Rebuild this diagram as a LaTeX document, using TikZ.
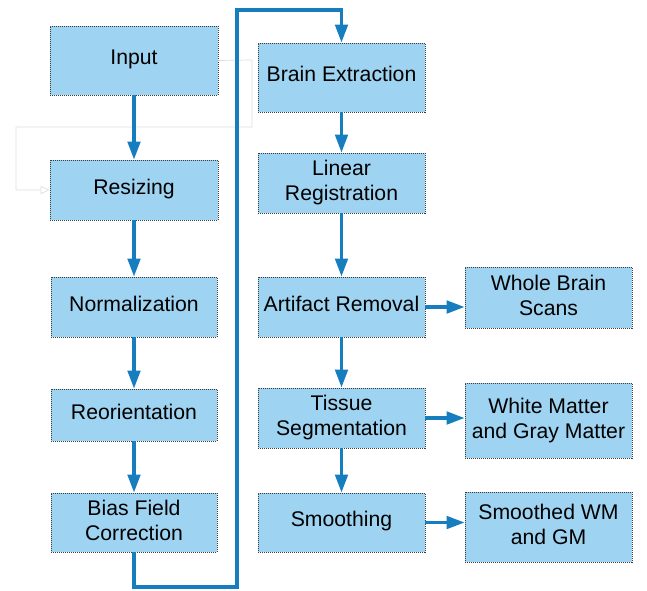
\documentclass[tikz,border=0pt]{standalone}
\usepackage{fontspec}
\setmainfont{Liberation Sans}
\usetikzlibrary{arrows.meta}
\definecolor{boxfill}{RGB}{158,211,241}
\definecolor{flowblue}{RGB}{22,126,191}
\definecolor{ghostgray}{RGB}{222,222,222}
\definecolor{edgegray}{RGB}{60,60,60}
\begin{document}
\begin{tikzpicture}[x=1pt,y=-1pt,
  stepbox/.style={draw=edgegray, line width=0.8pt, dash pattern=on 1pt off 1pt,
    fill=boxfill, inner sep=0pt, align=center,
    font=\fontsize{21.2}{25}\selectfont},
  oneline/.style={stepbox, text height=16pt, text depth=7.5pt},
  twoline/.style={stepbox, text depth=4.5pt},
  flow/.style={draw=flowblue, line width=3.3pt,
    -{Triangle[length=18pt,width=12.5pt]}},
  ghost/.style={draw=ghostgray, line width=0.7pt,
    -{Triangle[open,length=9pt,width=8pt]}}]
  \useasboundingbox (0,0) rectangle (647,590);

  % left column
  \node[oneline, minimum width=168pt, minimum height=69pt] (input) at (134,60.5) {Input};
  \node[oneline, minimum width=168pt, minimum height=60pt] (resize) at (134,190) {Resizing};
  \node[oneline, minimum width=166pt, minimum height=60pt] (norm) at (134,307) {Normalization};
  \node[oneline, minimum width=166pt, minimum height=52pt] (reor) at (134,415) {Reorientation};
  \node[twoline, minimum width=166pt, minimum height=59pt] (bias) at (134,522.5) {Bias Field\\Correction};

  % middle column
  \node[oneline, minimum width=167pt, minimum height=69pt] (brain) at (341.5,77.5) {Brain Extraction};
  \node[twoline, minimum width=167pt, minimum height=60pt] (linreg) at (341.5,183) {Linear\\Registration};
  \node[oneline, minimum width=167pt, minimum height=60pt] (artif) at (341.5,307) {Artifact Removal};
  \node[twoline, minimum width=167pt, minimum height=60pt] (tissue) at (341.5,418) {Tissue\\Segmentation};
  \node[oneline, minimum width=167pt, minimum height=59pt] (smooth) at (341.5,522.5) {Smoothing};

  % outputs
  \node[twoline, minimum width=167pt, minimum height=61pt] (whole) at (548.5,297.5) {Whole Brain\\Scans};
  \node[twoline, minimum width=167pt, minimum height=75pt] (wmgm) at (548.5,420.5) {White Matter\\and Gray Matter};
  \node[twoline, minimum width=167pt, minimum height=70pt] (swm) at (548.5,527) {Smoothed WM\\and GM};

  % faint secondary connector
  \coordinate (g1) at (252,60);
  \coordinate (g2) at (252,127);
  \coordinate (g3) at (16,127);
  \coordinate (g4) at (16,190);
  \draw[ghost] (input.east) -- (g1) -- (g2) -- (g3) -- (g4) -- (resize.west);

  % main flow, left column
  \draw[flow] (input) -- (resize);
  \draw[flow] (resize) -- (norm);
  \draw[flow] (norm) -- (reor);
  \draw[flow] (reor) -- (bias);

  % loop over to the middle column
  \coordinate (l1) at (134,587);
  \coordinate (l2) at (237,587);
  \coordinate (l3) at (237,10);
  \coordinate (l4) at (341.5,10);
  \draw[flow, line join=miter] (bias.south) -- (l1) -- (l2) -- (l3) -- (l4) -- (brain.north);

  % middle column
  \draw[flow] (brain) -- (linreg);
  \draw[flow] (linreg) -- (artif);
  \draw[flow] (artif) -- (tissue);
  \draw[flow] (tissue) -- (smooth);

  % outputs
  \draw[flow] (artif.east) -- (whole.west |- artif.east);
  \draw[flow] (tissue.east) -- (wmgm.west |- tissue.east);
  \draw[flow] (smooth.east) -- (swm.west |- smooth.east);
\end{tikzpicture}
\end{document}
